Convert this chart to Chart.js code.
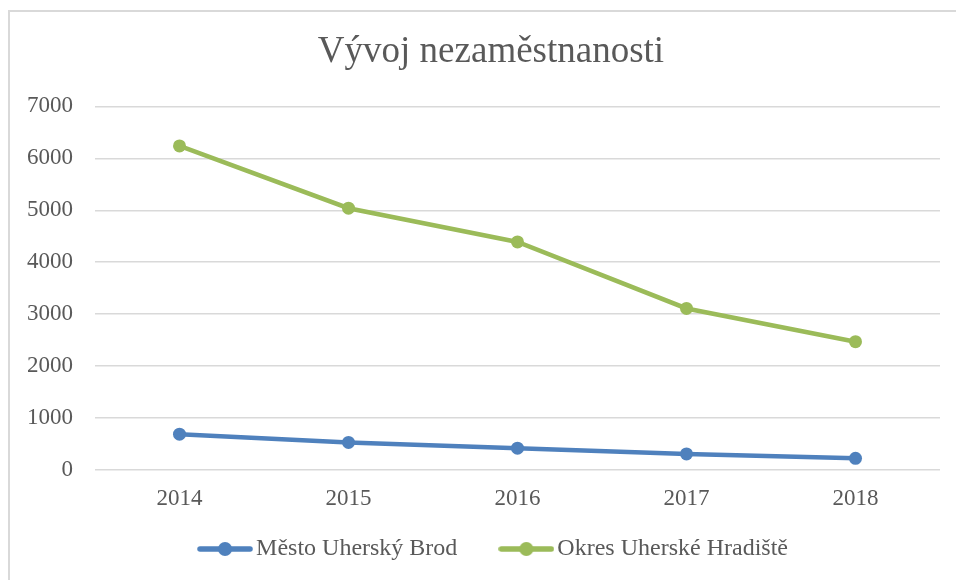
<!DOCTYPE html>
<html lang="cs">
<head>
    <meta charset="UTF-8">
    <title>Vývoj nezaměstnanosti</title>
    <style>
        html, body { margin: 0; background: #ffffff; width: 956px; height: 580px; overflow: hidden; }
        .ramecek {
            position: absolute; left: 8px; top: 10px;
            width: 1000px; height: 620px;
            border: 2px solid #d9d9d9;
            box-sizing: border-box;
            pointer-events: none;
        }
        canvas { position: absolute; left: 0; top: 0; }
    </style>
</head>
<body>
    <div class="ramecek"></div>
    <canvas id="nezamestnanostChart" width="956" height="580"></canvas>

    <script src="https://cdn.jsdelivr.net/npm/chart.js"></script>
    <script>
// data
const roky = ['2014', '2015', '2016', '2017', '2018'];
const uherskyBrod = [690, 530, 420, 310, 225];
const uherskeHradiste = [6240, 5040, 4390, 3110, 2470];
const osaY = [0, 1000, 2000, 3000, 4000, 5000, 6000, 7000];

const MODRA = '#4F81BD';
const ZELENA = '#9BBB59';
const SEDA = '#595959';
const PISMO = '"Liberation Serif", "Times New Roman", serif';

// vzorek do legendy: cara s bodem
function vzorek(barva) {
    const c = document.createElement('canvas');
    c.width = 56; c.height = 16;
    const g = c.getContext('2d');
    g.strokeStyle = barva;
    g.lineWidth = 5.5;
    g.lineCap = 'round';
    g.beginPath(); g.moveTo(3, 8); g.lineTo(53, 8); g.stroke();
    g.fillStyle = barva;
    g.beginPath(); g.arc(28, 8, 7, 0, Math.PI * 2); g.fill();
    return c;
}
const vzorky = [vzorek(MODRA), vzorek(ZELENA)];

// legenda a nadpis jsou v originale posunute doprava (stred nad osou)
const posun = {
    id: 'posun',
    afterLayout(chart) {
        const l = chart.legend;
        l.left += 27; l.right += 27; l.top -= 25.6;
        const t = chart.titleBlock;
        t.left += 21; t.right += 21;
    }
};

const ctx = document.getElementById('nezamestnanostChart').getContext('2d');
new Chart(ctx, {
    type: 'line',
    data: {
        labels: roky,
        datasets: [{
            label: 'Město Uherský Brod',
            data: uherskyBrod,
            borderColor: MODRA,
            backgroundColor: MODRA,
            borderWidth: 4.5,
            pointRadius: 6.5,
            pointBorderWidth: 0,
            tension: 0
        }, {
            label: 'Okres Uherské Hradiště',
            data: uherskeHradiste,
            borderColor: ZELENA,
            backgroundColor: ZELENA,
            borderWidth: 4.5,
            pointRadius: 6.5,
            pointBorderWidth: 0,
            tension: 0
        }]
    },
    plugins: [posun],
    options: {
        responsive: false,
        animation: false,
        devicePixelRatio: 1,
        layout: { padding: { left: 0, right: 16, top: 10, bottom: 0 } },
        scales: {
            x: {
                offset: true,
                grid: { display: false, drawTicks: false },
                border: { display: false },
                ticks: { color: SEDA, font: { family: PISMO, size: 23 }, padding: 15 },
                afterFit: (s) => { s.height = 42.6; }
            },
            y: {
                min: 0,
                max: 7000,
                afterBuildTicks: (s) => { s.ticks = osaY.map(v => ({ value: v })); },
                grid: { color: '#d9d9d9', lineWidth: 1.5, drawTicks: false },
                border: { display: false },
                ticks: {
                    color: SEDA,
                    font: { family: PISMO, size: 23 },
                    padding: 22,
                    callback: (v) => String(v)
                },
                afterFit: (s) => { s.width = 95; }
            }
        },
        plugins: {
            title: {
                display: true,
                text: 'Vývoj nezaměstnanosti',
                color: SEDA,
                font: { family: PISMO, size: 37, weight: 'normal' },
                padding: { top: 20, bottom: 32 }
            },
            legend: {
                position: 'bottom',
                maxHeight: 67.4,
                labels: {
                    color: SEDA,
                    font: { family: PISMO, size: 24 },
                    padding: 50,
                    usePointStyle: true,
                    pointStyleWidth: 38,
                    generateLabels: (chart) => chart.data.datasets.map((ds, i) => ({
                        text: ds.label,
                        fontColor: SEDA,
                        pointStyle: vzorky[i],
                        datasetIndex: i,
                        hidden: false,
                        lineWidth: 0
                    }))
                }
            },
            tooltip: { enabled: false }
        }
    }
});
    </script>
</body>
</html>
